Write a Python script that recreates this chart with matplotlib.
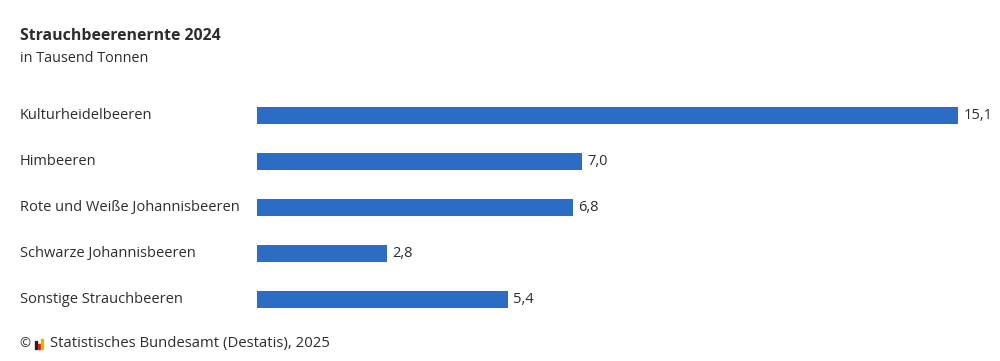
import matplotlib.pyplot as plt
import matplotlib.patches as patches

categories = ["Kulturheidelbeeren", "Himbeeren", "Rote und Weiße Johannisbeeren",
              "Schwarze Johannisbeeren", "Sonstige Strauchbeeren"]
values = [15.1, 7.0, 6.8, 2.8, 5.4]

title = "Strauchbeerenernte 2024"
subtitle = "in Tausend Tonnen"
source = "Statistisches Bundesamt (Destatis), 2025"

plt.rcParams['font.family'] = ['Open Sans', 'DejaVu Sans']
text_color = "#2d2d2d"
bar_color = "#2b6cc4"

fig = plt.figure(figsize=(10, 3.61), dpi=100)
ax = fig.add_axes([0.257, 0.108, 0.701, 0.637])

y = list(range(len(categories)))
ax.barh(y, values, height=0.37, color=bar_color)
ax.set_xlim(0, max(values))
ax.set_ylim(len(categories) - 0.5, -0.5)
ax.axis("off")

for i, (cat, v) in enumerate(zip(categories, values)):
    ax.text(v + 0.12, i, f"{v:.1f}".replace(".", ","), va="center", ha="left",
            fontsize=10.5, color=text_color)
    ax.annotate(cat, xy=(0.02, i), xycoords=("figure fraction", "data"),
                va="center", ha="left", fontsize=10.5, color=text_color)

fig.text(0.02, 1 - 36 / 361, title, fontsize=11.4, fontweight="bold",
         color=text_color, va="center")
fig.text(0.02, 1 - 58 / 361, subtitle, fontsize=10.4, color=text_color, va="center")

# footer: copyright sign, small flag-like logo, source text
fig.text(0.019, 1 - 344 / 361, "©", fontsize=9.5, color=text_color, va="center")
for k, c in enumerate(["#222222", "#d42020", "#e8b000"]):
    h = [8, 5, 10][k]
    fig.add_artist(patches.Rectangle((0.035 + k * 0.003, 1 - 349 / 361), 0.0022, h / 361,
                                     transform=fig.transFigure, color=c))
fig.text(0.05, 1 - 344 / 361, source, fontsize=10.7, color=text_color, va="center")

fig.savefig("out.png", dpi=100, facecolor="white")
